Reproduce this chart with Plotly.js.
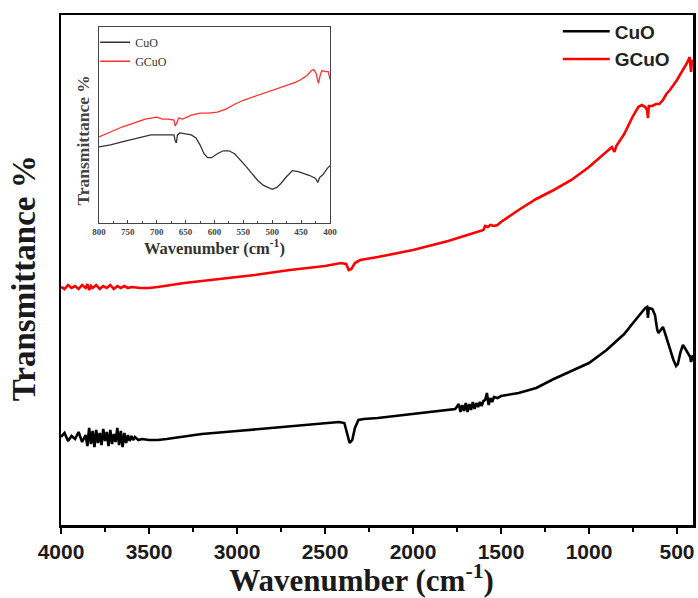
<!DOCTYPE html>
<html>
<head>
<meta charset="utf-8">
<script src="https://cdn.plot.ly/plotly-3.0.1.min.js"></script>
<style>html,body{margin:0;padding:0;background:#fff;}#chart{width:698px;height:598px;}</style>
</head>
<body>
<div id="chart"></div>
<script>
// Main spectrum: CuO
const cuoWn = [4000,3980,3960,3940,3920,3900,3880,3860,3850,3840,3830,3820,3810,3800,3790,3780,3770,3760,3750,3740,3730,3720,3710,3700,3690,3680,3670,3660,3650,3640,3630,3620,3610,3600,3590,3580,3560,3540,3500,3450,3400,3200,3000,2800,2600,2420,2390,2375,2360,2345,2330,2310,2280,2200,2000,1900,1800,1760,1740,1730,1720,1710,1700,1690,1680,1670,1660,1650,1640,1630,1620,1610,1600,1590,1580,1570,1560,1550,1540,1520,1500,1400,1300,1200,1100,1000,900,800,750,700,680,670,665,660,640,625,612,605,590,580,570,555,540,520,505,495,480,466,455,440,425,420,415,410];
const cuoT = [16.3,16.7,15.9,16.4,16.1,16.8,15.8,16.5,15.4,17.2,15.6,16.9,15.3,17.0,15.7,16.7,15.5,17.1,15.9,16.8,15.4,17.0,15.6,16.6,15.8,17.2,15.5,16.9,15.3,16.7,15.7,16.5,15.9,16.4,16.0,16.3,16.0,16.1,16.0,16.0,16.1,16.6,16.9,17.2,17.5,17.8,17.7,16.8,15.7,16.0,17.2,18.0,18.1,18.2,18.6,18.8,19.0,19.1,19.6,18.8,19.5,18.9,19.7,18.8,19.6,19.0,19.8,19.1,19.7,19.3,19.8,19.4,19.9,20.0,20.7,19.5,20.2,19.8,20.3,20.2,20.4,20.7,21.2,22.1,22.9,23.7,25.0,26.6,27.7,28.8,29.2,29.3,28.2,29.2,29.1,28.5,27.0,26.7,27.1,27.3,26.8,26.0,25.0,24.0,23.4,23.6,24.8,25.5,25.2,24.8,24.3,23.8,24.4,24.5];

// Main spectrum: GCuO
const gcuoWn = [4000,3980,3960,3940,3920,3900,3880,3860,3850,3840,3830,3820,3800,3780,3760,3740,3720,3700,3680,3660,3640,3620,3600,3550,3500,3450,3300,3100,2900,2700,2500,2410,2380,2365,2350,2330,2300,2200,2000,1800,1650,1600,1590,1575,1560,1540,1520,1500,1400,1300,1200,1100,1000,900,870,855,845,800,750,720,700,680,670,665,660,640,620,600,580,560,540,500,466,440,428,420,415,410];
const gcuoT = [31.3,31.1,31.5,31.2,31.4,31.1,31.5,31.2,31.6,31.0,31.4,31.2,31.5,31.1,31.4,31.2,31.5,31.1,31.4,31.2,31.4,31.2,31.3,31.2,31.2,31.3,31.7,32.1,32.5,33.0,33.4,33.7,33.6,33.0,33.1,33.7,34.0,34.3,35.0,35.9,36.7,37.0,37.4,37.3,37.5,37.4,37.5,37.8,39.0,40.1,41.0,42.0,43.3,44.9,45.3,44.8,45.4,46.6,48.4,49.3,49.5,49.3,49.0,48.2,49.4,49.4,49.6,49.6,50.0,50.6,51.0,52.0,53.0,53.8,54.3,52.8,54.0,53.8];

// Inset (800-400 cm-1): CuO
const insetCuoWn = [800,780,760,740,720,710,700,690,680,670,668,666,664,660,650,640,632,625,618,612,605,595,585,575,565,555,545,535,525,515,505,500,492,485,475,465,455,445,435,425,421,418,412,405,400];
const insetCuoT = [15.2,15.4,15.7,16.0,16.3,16.4,16.4,16.4,16.4,16.4,15.8,15.6,16.4,16.6,16.5,16.4,16.1,15.4,14.5,14.1,14.1,14.5,14.8,14.8,14.5,13.9,13.2,12.5,11.8,11.3,11.0,10.9,11.1,11.5,12.2,12.8,12.7,12.5,12.3,12.0,11.6,12.1,12.4,13.0,13.3];

// Inset (800-400 cm-1): GCuO
const insetGcuoWn = [800,780,760,740,720,700,690,680,670,668,666,662,655,640,625,610,595,580,565,550,535,520,505,490,475,460,450,440,432,428,424,420,417,414,408,403,400];
const insetGcuoT = [16.2,16.7,17.2,17.6,18.0,18.2,18.0,18.0,17.9,17.3,17.5,18.1,18.0,18.4,18.6,18.6,18.7,19.0,19.5,19.9,20.2,20.5,20.8,21.1,21.4,21.7,22.0,22.4,22.9,23.0,22.6,21.6,22.4,22.9,22.8,22.8,22.0];

const seriesNames = ['CuO', 'GCuO'];
const mainTicks = [4000,3500,3000,2500,2000,1500,1000,500];
const insetTicks = [800,750,700,650,600,550,500,450,400];

const serif = 'Liberation Serif, Times New Roman, serif';
const sans = 'Liberation Sans, Arial, sans-serif';

const traces = [
  {x: cuoWn, y: cuoT, name: seriesNames[0], type: 'scatter', mode: 'lines',
   line: {color: '#000000', width: 2.6}, xaxis: 'x', yaxis: 'y', legend: 'legend'},
  {x: gcuoWn, y: gcuoT, name: seriesNames[1], type: 'scatter', mode: 'lines',
   line: {color: '#ff0000', width: 2.6}, xaxis: 'x', yaxis: 'y', legend: 'legend'},
  {x: insetCuoWn, y: insetCuoT, name: seriesNames[0], type: 'scatter', mode: 'lines',
   line: {color: '#333333', width: 1.3}, xaxis: 'x2', yaxis: 'y2', legend: 'legend2'},
  {x: insetGcuoWn, y: insetGcuoT, name: seriesNames[1], type: 'scatter', mode: 'lines',
   line: {color: '#ff3030', width: 1.3}, xaxis: 'x2', yaxis: 'y2', legend: 'legend2'}
];

const layout = {
  width: 698, height: 598,
  margin: {l: 61, r: 5, t: 15, b: 73},
  paper_bgcolor: '#ffffff', plot_bgcolor: '#ffffff',
  showlegend: true,
  xaxis: {
    domain: [0, 1], anchor: 'y',
    range: [4000, 409], showline: true, mirror: true, linecolor: '#000', linewidth: 2.5,
    ticks: 'outside', ticklen: 6, tickwidth: 2, tickcolor: '#000',
    tickvals: mainTicks, ticktext: mainTicks.map(String),
    minor: {ticks: 'outside', dtick: 250, tick0: 0, ticklen: 4, tickwidth: 2, tickcolor: '#000'},
    tickfont: {family: sans, size: 21, weight: 'bold', color: '#1a1a1a'},
    showgrid: false, zeroline: false,
    title: {text: 'Wavenumber (cm<sup>-1</sup>)&nbsp;&nbsp;&nbsp;&nbsp;', font: {family: serif, size: 31, weight: 'bold', color: '#1a1a1a'}, standoff: 6}
  },
  yaxis: {
    domain: [0, 1], anchor: 'x',
    range: [7.5, 58.5], showline: true, mirror: true, linecolor: '#000', linewidth: 2.5,
    ticks: '', showticklabels: false, showgrid: false, zeroline: false,
    title: {text: 'Transmittance %&nbsp;&nbsp;', font: {family: serif, size: 33, weight: 'bold', color: '#1a1a1a'}, standoff: 13}
  },
  xaxis2: {
    domain: [0.060, 0.4256], anchor: 'y2',
    range: [800, 400], showline: true, mirror: true, linecolor: '#444', linewidth: 1,
    ticks: 'inside', ticklen: 3, tickwidth: 1, tickcolor: '#444',
    tickvals: insetTicks, ticktext: insetTicks.map(String),
    minor: {ticks: 'inside', dtick: 25, tick0: 0, ticklen: 2, tickcolor: '#444'},
    tickfont: {family: serif, size: 9, weight: 'bold', color: '#444'},
    showgrid: false, zeroline: false,
    title: {text: 'Wavenumber (cm<sup>-1</sup>)', font: {family: serif, size: 16.5, weight: 'bold', color: '#333'}, standoff: 6}
  },
  yaxis2: {
    domain: [0.592, 0.9765], anchor: 'x2',
    range: [7.5, 27.3], showline: true, mirror: true, linecolor: '#444', linewidth: 1,
    ticks: '', showticklabels: false, showgrid: false, zeroline: false,
    title: {text: 'Transmittance %&nbsp;&nbsp;&nbsp;&nbsp;&nbsp;&nbsp;&nbsp;', font: {family: serif, size: 17.5, weight: 'bold', color: '#444'}, standoff: 3}
  },
  legend: {
    x: 0.786, y: 1.005, xanchor: 'left', yanchor: 'top',
    bgcolor: 'rgba(0,0,0,0)', borderwidth: 0,
    font: {family: sans, size: 19, weight: 'bold', color: '#222'},
    tracegroupgap: 0, itemwidth: 47
  },
  legend2: {
    x: 0.054, y: 0.975, xanchor: 'left', yanchor: 'top',
    bgcolor: 'rgba(0,0,0,0)', borderwidth: 0,
    font: {family: serif, size: 12, color: '#333'},
    tracegroupgap: 0, itemwidth: 30
  }
};

Plotly.newPlot('chart', traces, layout, {displayModeBar: false, staticPlot: true});
</script>
</body>
</html>
